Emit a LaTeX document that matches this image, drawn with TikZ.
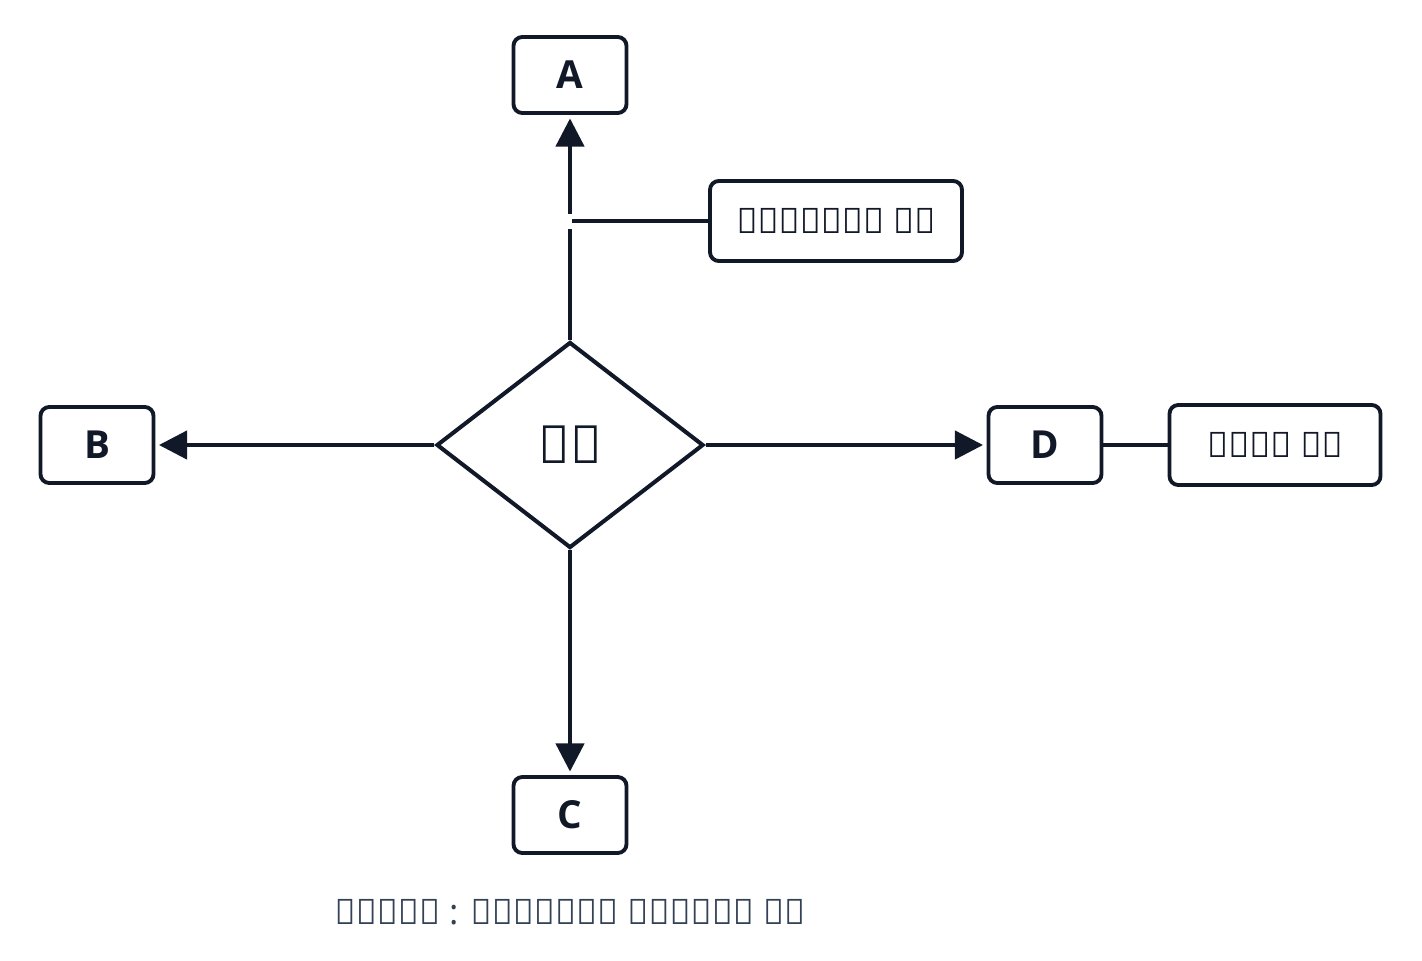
\documentclass[tikz,border=0pt]{standalone}
\usepackage{fontspec}
\setmainfont{Open Sans}
\usetikzlibrary{arrows.meta,shapes.geometric}
\definecolor{ink}{HTML}{111827}
\definecolor{cap}{HTML}{334155}
\begin{document}
\begin{tikzpicture}[x=0.02cm,y=-0.02cm,
  box/.style={draw=ink,line width=2.2pt,rounded corners=5pt,fill=white,font=\bfseries\fontsize{22}{24}\selectfont,text=ink},
  con/.style={draw=ink,line width=2.3pt},
  arr/.style={con,-{Triangle[length=16pt,width=16pt]},shorten >=2pt}]
\useasboundingbox (0,0) rectangle (1422,960);
\node[box,minimum width=113*0.02cm,minimum height=76*0.02cm] (A) at (570,75) {A};
\node[box,minimum width=113*0.02cm,minimum height=76*0.02cm] (B) at (97,445) {B};
\node[box,minimum width=113*0.02cm,minimum height=76*0.02cm] (C) at (570,815) {C};
\node[box,minimum width=113*0.02cm,minimum height=76*0.02cm] (D) at (1045,445) {D};
\node[box,minimum width=252*0.02cm,minimum height=80*0.02cm,font=\bfseries\fontsize{20}{24}\selectfont] (S) at (836,221) {সামাজিক বন};
\node[box,minimum width=211*0.02cm,minimum height=80*0.02cm,font=\bfseries\fontsize{20}{24}\selectfont] (K) at (1275,445) {কৃষি বন};
\node[diamond,draw=ink,line width=2.3pt,minimum width=267*0.02cm,minimum height=206*0.02cm,inner sep=0pt,text=ink,font=\bfseries\fontsize{30}{32}\selectfont] (F) at (570,445) {বন};
\node[text=cap,font=\fontsize{20}{24}\selectfont] (T) at (570,912) {চিত্র : বিভিন্ন প্রকার বন};
\coordinate (g1) at (570,229);
\coordinate (g2) at (570,214);
\coordinate (j) at (572,221);
\draw[con] (F.north) -- (g1);
\draw[arr] (g2) -- (A.south);
\draw[con] (S.west) -- (j);
\draw[arr] (F.west) -- (B.east);
\draw[arr] (F.east) -- (D.west);
\draw[arr] (F.south) -- (C.north);
\draw[con] (D.east) -- (K.west);
\end{tikzpicture}
\end{document}
